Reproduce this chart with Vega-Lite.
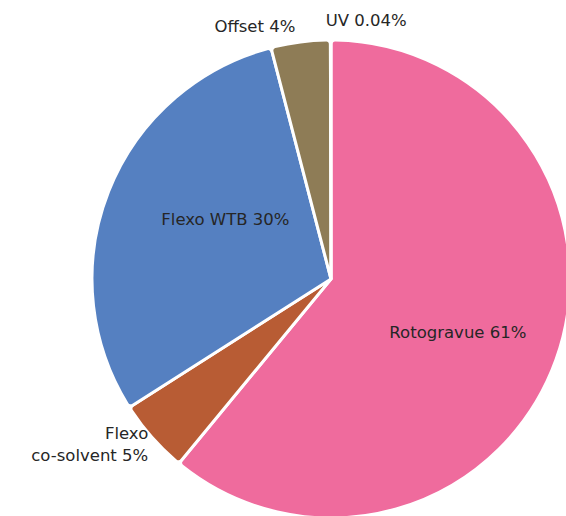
{
  "$schema": "https://vega.github.io/schema/vega-lite/v6.json",
  "width": 566,
  "height": 516,
  "autosize": "none",
  "padding": {"left": 48, "top": 21, "right": 0, "bottom": 0},
  "background": "white",
  "config": {"view": {"stroke": null}, "text": {"font": "DejaVu Sans", "fontSize": 16.5, "fontWeight": "normal", "color": "#262626"}},
  "data": {"values": [
    {"cat": "Rotogravue", "label": "Rotogravue 61%", "share": 61, "rank": 1},
    {"cat": "Flexo co-solvent", "label": "Flexo\nco-solvent 5%", "share": 5, "rank": 2},
    {"cat": "Flexo WTB", "label": "Flexo WTB 30%", "share": 30, "rank": 3},
    {"cat": "Offset", "label": "Offset 4%", "share": 4, "rank": 4},
    {"cat": "UV", "label": "UV 0.04%", "share": 0.04, "rank": 5}
  ]},
  "encoding": {
    "theta": {"field": "share", "type": "quantitative", "stack": true},
    "order": {"field": "rank", "type": "quantitative"},
    "detail": {"field": "cat", "type": "nominal"}
  },
  "layer": [
    {
      "mark": {"type": "arc", "outerRadius": 239, "stroke": "white", "strokeWidth": 3, "cornerRadius": 4},
      "encoding": {
        "color": {
          "field": "cat", "type": "nominal", "legend": null,
          "scale": {
            "domain": ["Rotogravue", "Flexo co-solvent", "Flexo WTB", "Offset", "UV"],
            "range": ["#EF6B9D", "#B85C34", "#5580C1", "#8E7C56", "#9a9a9a"]
          }
        }
      }
    },
    {
      "mark": {"type": "text", "radius": 138, "dx": -3, "dy": 7, "align": "center", "baseline": "middle"},
      "encoding": {"text": {"condition": {"test": "datum.cat === 'Rotogravue'", "field": "label"}, "value": ""}}
    },
    {
      "mark": {"type": "text", "radius": 121, "dx": 7, "dy": -15, "align": "center", "baseline": "middle"},
      "encoding": {"text": {"condition": {"test": "datum.cat === 'Flexo WTB'", "field": "label"}, "value": ""}}
    },
    {
      "mark": {"type": "text", "radius": 255, "dx": -3, "dy": 1, "align": "right", "baseline": "middle"},
      "encoding": {"text": {"condition": {"test": "datum.cat === 'Offset'", "field": "label"}, "value": ""}}
    },
    {
      "mark": {"type": "text", "radius": 259, "dx": -5, "dy": 1, "align": "left", "baseline": "middle"},
      "encoding": {"text": {"condition": {"test": "datum.cat === 'UV'", "field": "label"}, "value": ""}}
    },
    {
      "mark": {"type": "text", "radius": 244, "dx": 0, "dy": -7, "align": "right", "baseline": "middle", "lineBreak": "\n", "lineHeight": 22},
      "encoding": {"text": {"condition": {"test": "datum.cat === 'Flexo co-solvent'", "field": "label"}, "value": ""}}
    }
  ]
}
